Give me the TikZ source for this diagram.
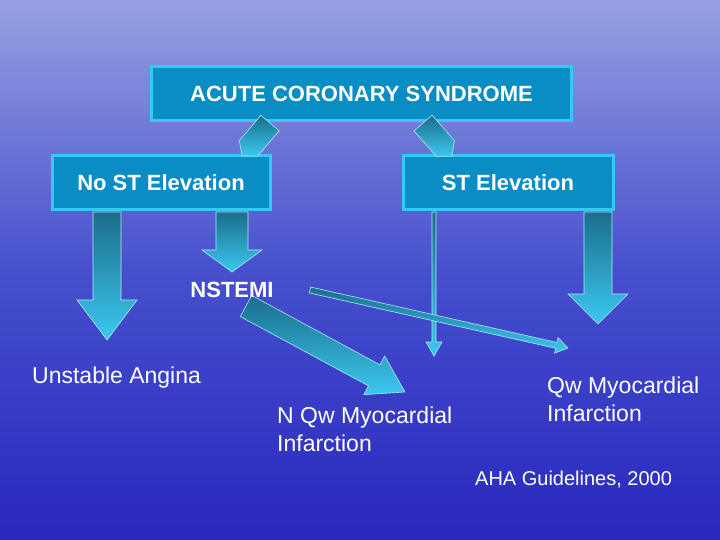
\documentclass[tikz,border=0pt]{standalone}
\usepackage{fontspec}
\setmainfont{Liberation Sans}
\usetikzlibrary{calc,shadows}
\definecolor{boxfill}{HTML}{0A8CC4}
\definecolor{boxline}{HTML}{38C8F5}
\definecolor{arrlight}{HTML}{3CC8F0}
\definecolor{arrdark}{HTML}{1A6E8A}
\tikzset{
 box/.style={draw=boxline,line width=3pt,fill=boxfill,text=white,font=\fontsize{22}{24}\selectfont\bfseries,inner sep=0pt,minimum height=54pt,
  drop shadow={shadow xshift=1.5pt,shadow yshift=-1.5pt,fill=black,opacity=.4}},
 lbl/.style={text=white,font=\fontsize{23}{28}\selectfont,align=left,inner sep=0pt,anchor=north west},
 fat/.style={top color=arrdark,bottom color=arrlight,draw=white!60!arrlight,line width=.6pt},
}
\newcommand\fatarr[5]{%
 \coordinate (hb) at ($(#2)!#5!(#1)$);
 \path[fat] ($(#1)!#3!90:(#2)$) -- ($(hb)!#3!-90:(#1)$) -- ($(hb)!#4!-90:(#1)$) -- (#2)
  -- ($(hb)!#4!90:(#1)$) -- ($(hb)!#3!90:(#1)$) -- ($(#1)!#3!-90:(#2)$) -- cycle;}
\begin{document}
\begin{tikzpicture}[x=1pt,y=-1pt]
\useasboundingbox (0,0) rectangle (720,540);
\shade[top color={rgb,255:red,150;green,160;blue,225},bottom color={rgb,255:red,40;green,40;blue,190},middle color={rgb,255:red,70;green,80;blue,205}] (0,0) rectangle (720,540);
\node[box,minimum width=420pt] (acs) at (361.5,93.5) {ACUTE CORONARY SYNDROME};
\node[box,minimum width=218pt,minimum height=54pt] (nost) at (161,183) {No ST Elevation};
\node[box,minimum width=210pt] (st) at (508,183) {ST Elevation};
% arrows
\coordinate (a1s) at (270,123); \coordinate (a1e) at (242,156);
\fatarr{a1s}{a1e}{12pt}{12pt}{10pt}
\coordinate (a2s) at (423,123); \coordinate (a2e) at (452,156);
\fatarr{a2s}{a2e}{12pt}{12pt}{10pt}
\coordinate (a3s) at (107,212); \coordinate (a3e) at (107,340);
\fatarr{a3s}{a3e}{14pt}{30pt}{40pt}
\coordinate (a4s) at (232,212); \coordinate (a4e) at (232,272);
\fatarr{a4s}{a4e}{16pt}{30pt}{22pt}
\coordinate (a5s) at (598,212); \coordinate (a5e) at (598,324);
\fatarr{a5s}{a5e}{14pt}{30pt}{30pt}
\coordinate (a6s) at (434,212); \coordinate (a6e) at (434,356);
\fatarr{a6s}{a6e}{2pt}{8pt}{14pt}
\coordinate (a7s) at (310,290); \coordinate (a7e) at (568,348);
\fatarr{a7s}{a7e}{3pt}{8pt}{12pt}
\coordinate (a8s) at (246,306); \coordinate (a8e) at (405,392);
\fatarr{a8s}{a8e}{12pt}{22pt}{35pt}
\node[text=white,font=\fontsize{22}{24}\selectfont\bfseries,inner sep=0pt] (nstemi) at (232,290) {NSTEMI};
\node[lbl] (ua) at (32,367) {Unstable Angina};
\node[lbl] (nqw) at (277,407) {N Qw Myocardial\\Infarction};
\node[lbl] (qw) at (547,377) {Qw Myocardial\\Infarction};
\node[lbl,font=\fontsize{20}{24}\selectfont] (aha) at (475,471) {AHA Guidelines, 2000};
\end{tikzpicture}
\end{document}
